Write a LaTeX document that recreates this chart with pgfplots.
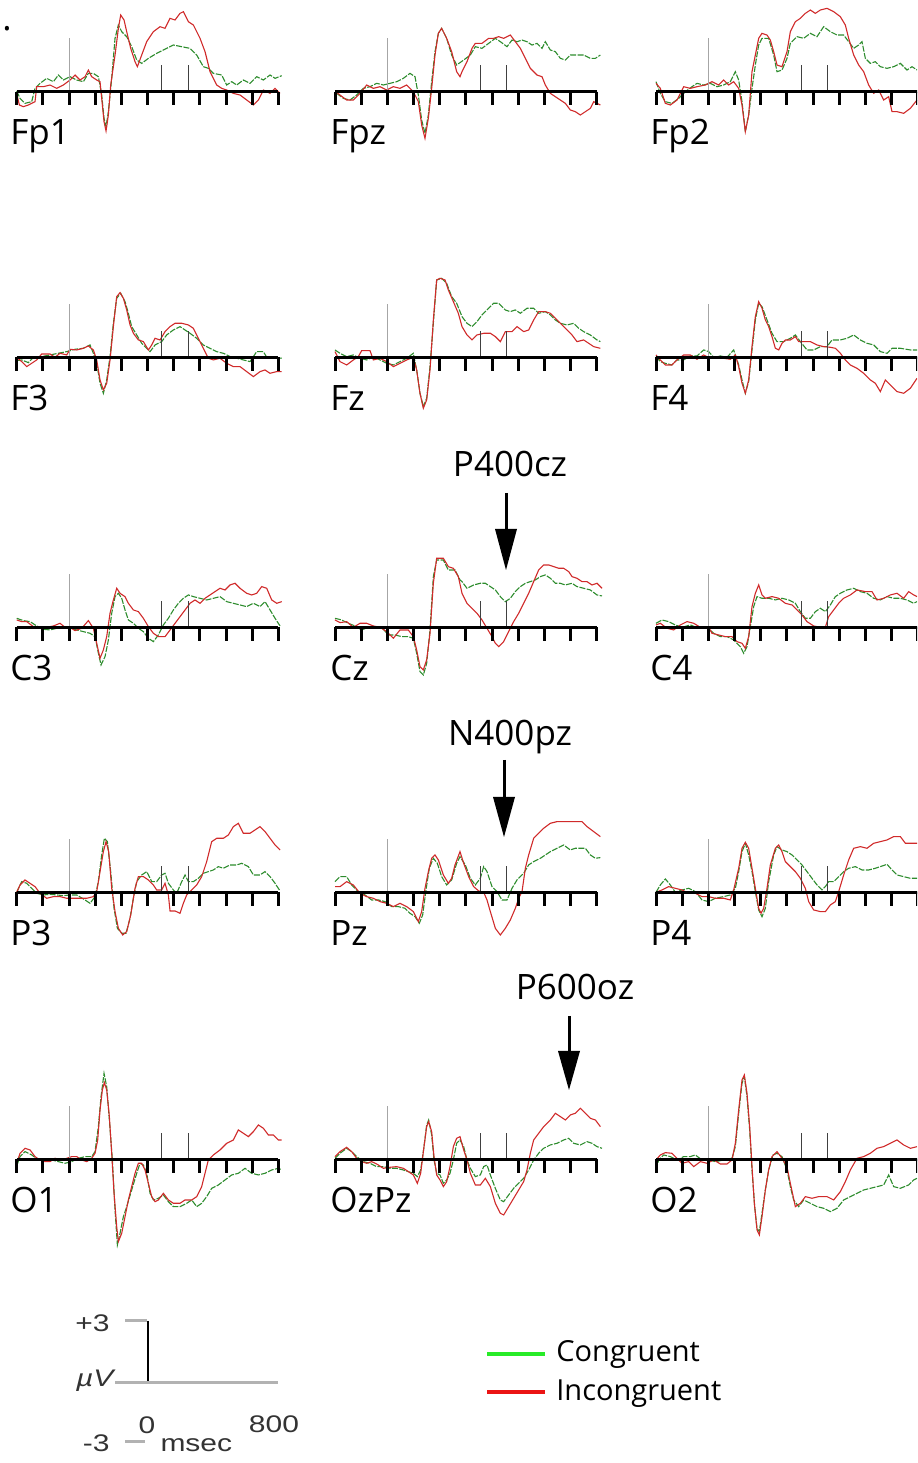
\documentclass[border=0pt]{standalone}
\usepackage{fontspec}
\setmainfont{Open Sans}
\newfontfamily\scalebarfont{Liberation Sans}
\usepackage{pgfplots}
\pgfplotsset{compat=1.18}
\definecolor{congcol}{RGB}{45,140,45}
\definecolor{incongcol}{RGB}{208,42,42}
\definecolor{legG}{RGB}{40,235,40}
\definecolor{legR}{RGB}{235,20,20}
\tikzset{
  cong/.style={draw=congcol, line width=0.55pt, dash pattern=on 3pt off 0.7pt},
  incong/.style={draw=incongcol, line width=0.55pt},
}
\pgfplotsset{
  erp/.style={x=0.1666667pt, y=0.1666667pt, xmin=-30, xmax=830, ymin=-300, ymax=300,
    hide axis, clip=false, anchor=south west, no markers},
}
\newcommand{\panelbase}{%
  \draw[gray!70, line width=0.5pt] (axis cs:157,0) -- (axis cs:157,160);
  \draw[black!75, line width=0.5pt] (axis cs:435,0) -- (axis cs:435,80) (axis cs:515,0) -- (axis cs:515,80);
  \draw[line width=1.5pt] (axis cs:0,0) -- (axis cs:785,0);
  \draw[line width=1.5pt] (axis cs:0,0) -- (axis cs:0,-40) (axis cs:78.5,0) -- (axis cs:78.5,-40)
    (axis cs:157,0) -- (axis cs:157,-40) (axis cs:235.5,0) -- (axis cs:235.5,-40)
    (axis cs:314,0) -- (axis cs:314,-40) (axis cs:392.5,0) -- (axis cs:392.5,-40)
    (axis cs:471,0) -- (axis cs:471,-40) (axis cs:549.5,0) -- (axis cs:549.5,-40)
    (axis cs:628,0) -- (axis cs:628,-40) (axis cs:706.5,0) -- (axis cs:706.5,-40)
    (axis cs:785,0) -- (axis cs:785,-40);
}
\newcommand{\erppanel}[4]{%
  \begin{axis}[erp, at={(#1,#2)}]
    \addplot[cong] coordinates {#3};
    \addplot[incong] coordinates {#4};
    \panelbase
  \end{axis}}
\newcommand{\lblfont}{\fontsize{17.5}{20}\selectfont}
\begin{document}
\begin{tikzpicture}[x=0.5pt,y=0.5pt]
\useasboundingbox (0,0) rectangle (917,1463);
\clip (0,0) rectangle (917,1463);
% ---------- Row 1 ----------
\erppanel{3.35pt}{635.65pt}{(0,2)(10,-20)(25,-35)(45,-30)(55,10)(70,25)(90,40)(110,30)(125,50)(140,35)(160,45)(180,35)(200,30)(215,55)(230,55)(245,45)(255,-10)(262,-80)(268,-105)(275,-60)(285,40)(295,160)(305,200)(315,180)(330,165)(345,135)(360,95)(375,85)(395,100)(420,115)(450,130)(470,140)(495,135)(520,130)(540,110)(560,75)(575,70)(590,55)(615,50)(630,20)(645,30)(660,20)(680,35)(700,25)(720,45)(740,35)(760,50)(775,40)(795,48)}
{(0,-5)(8,-40)(20,-45)(35,-40)(55,-30)(60,15)(80,15)(100,20)(120,10)(140,20)(160,35)(175,50)(190,35)(205,45)(215,65)(225,45)(240,35)(250,30)(255,-20)(262,-90)(268,-118)(275,-70)(282,20)(295,110)(305,190)(312,230)(322,215)(330,180)(342,130)(355,90)(362,75)(375,110)(390,150)(410,180)(430,195)(445,190)(460,220)(475,215)(490,235)(500,240)(515,210)(530,200)(550,160)(565,120)(580,60)(600,20)(615,10)(630,5)(650,-5)(670,-10)(690,-25)(710,-40)(725,-25)(740,5)(760,-5)(775,10)(790,-5)}
\erppanel{162.5pt}{635.65pt}{(5,-5)(25,-20)(45,-25)(65,-10)(85,10)(105,15)(125,25)(145,20)(165,25)(185,30)(205,40)(225,55)(240,45)(250,-10)(260,-85)(270,-125)(280,-70)(290,30)(300,120)(310,175)(320,190)(335,160)(350,110)(365,80)(386,95)(406,110)(421,135)(441,130)(461,145)(481,160)(496,150)(516,135)(531,155)(546,150)(561,155)(576,150)(591,140)(606,145)(621,130)(631,150)(646,125)(661,120)(676,100)(691,95)(706,110)(726,110)(746,110)(766,100)(781,100)(796,110)}
{(5,-2)(15,-10)(35,-25)(55,-25)(75,-5)(95,20)(115,10)(135,15)(155,5)(175,15)(195,10)(215,20)(235,0)(250,-30)(260,-100)(270,-140)(280,-80)(290,10)(300,110)(310,175)(320,190)(335,160)(350,120)(365,60)(375,45)(381,60)(396,90)(411,130)(421,145)(441,145)(461,160)(476,160)(491,165)(506,160)(526,170)(541,150)(556,130)(571,100)(586,70)(606,50)(621,45)(631,20)(646,-5)(661,-15)(676,-25)(691,-35)(706,-55)(721,-60)(736,-70)(751,-60)(766,-50)(776,-30)(786,-35)(796,-40)}
\erppanel{323pt}{635.65pt}{(0,30)(13,-5)(28,-30)(48,-35)(68,-20)(88,0)(108,15)(123,25)(143,20)(163,25)(183,15)(203,20)(223,30)(238,60)(248,35)(258,-30)(268,-120)(278,-70)(288,10)(298,80)(308,140)(318,160)(338,160)(353,110)(363,60)(378,65)(393,100)(403,145)(423,165)(443,160)(463,175)(483,165)(503,195)(523,180)(543,170)(563,170)(578,150)(593,130)(608,140)(618,150)(628,100)(643,85)(658,90)(673,75)(693,70)(713,75)(733,85)(753,65)(768,75)(783,65)}
{(0,25)(13,10)(28,-35)(43,-40)(63,-25)(83,15)(103,10)(123,15)(148,20)(168,30)(188,20)(203,35)(218,20)(233,30)(248,10)(258,-40)(268,-120)(278,-70)(288,60)(298,110)(308,160)(318,175)(333,170)(343,155)(353,120)(363,80)(378,75)(393,120)(403,180)(418,210)(433,220)(448,235)(463,245)(478,235)(493,245)(513,250)(533,240)(553,225)(568,200)(578,160)(593,110)(608,80)(623,60)(638,20)(653,-5)(668,5)(683,-25)(698,-15)(708,-60)(723,-60)(743,-65)(763,-50)(783,-25)}
% ---------- Row 2 ----------
\erppanel{3.35pt}{502.85pt}{(0,-10)(15,-8)(35,-16)(50,0)(75,2)(100,7)(125,12)(150,17)(175,24)(200,27)(220,37)(230,12)(240,-18)(250,-78)(260,-108)(270,-68)(280,2)(290,102)(300,177)(312,192)(325,167)(335,132)(345,92)(360,67)(375,42)(390,27)(400,17)(415,37)(435,47)(450,67)(470,82)(490,92)(505,82)(520,72)(540,57)(560,37)(580,27)(600,17)(620,12)(640,2)(660,-3)(680,-8)(700,-13)(720,17)(740,17)(750,0)(770,0)(795,-3)}
{(0,0)(15,-13)(30,-28)(45,-18)(60,-8)(75,10)(100,10)(115,0)(130,12)(150,7)(160,24)(180,22)(200,27)(215,34)(230,22)(240,-8)(250,-68)(260,-98)(270,-78)(280,-8)(290,92)(300,182)(310,194)(320,177)(330,142)(340,97)(350,72)(365,52)(380,47)(395,22)(405,37)(415,57)(430,52)(445,77)(460,92)(475,102)(495,102)(515,97)(530,87)(540,67)(550,47)(565,17)(575,-3)(590,-8)(610,-3)(630,-18)(650,-28)(670,-28)(690,-43)(710,-58)(730,-43)(745,-38)(760,-48)(780,-43)(795,-43)}
\erppanel{162.5pt}{502.85pt}{(0,22)(15,12)(35,2)(55,7)(75,-3)(95,-8)(115,2)(135,-8)(155,-18)(175,-23)(195,-13)(215,-3)(235,12)(245,-38)(255,-108)(265,-148)(275,-123)(285,-28)(295,102)(305,232)(320,237)(335,222)(350,182)(365,162)(381,122)(396,102)(411,92)(426,107)(441,127)(456,142)(476,162)(491,162)(511,142)(526,137)(541,142)(556,132)(576,147)(596,147)(611,132)(631,137)(646,127)(661,112)(676,102)(696,97)(716,102)(731,87)(746,77)(766,67)(786,52)(796,47)}
{(0,17)(15,-13)(35,-23)(55,-8)(70,2)(80,20)(105,20)(115,-8)(135,-3)(155,-13)(175,-28)(195,-18)(215,-8)(235,0)(245,-38)(255,-108)(265,-153)(275,-128)(285,-38)(295,112)(305,232)(315,237)(330,232)(340,202)(355,167)(370,132)(381,92)(396,67)(411,52)(426,67)(446,72)(466,72)(481,62)(496,47)(511,77)(531,77)(546,92)(566,77)(581,82)(596,112)(611,137)(631,137)(646,132)(661,117)(676,102)(696,82)(711,67)(726,47)(746,52)(761,42)(776,32)(796,27)}
\erppanel{323pt}{502.85pt}{(0,2)(13,-13)(28,-18)(48,-23)(63,-8)(83,-8)(103,4)(123,4)(143,22)(158,17)(173,0)(193,4)(213,0)(233,22)(248,-23)(258,-68)(268,-108)(278,-73)(288,22)(298,112)(308,162)(318,152)(333,112)(348,72)(363,47)(383,47)(403,57)(418,67)(433,47)(453,22)(473,22)(493,32)(513,32)(528,52)(553,52)(573,57)(593,67)(613,52)(633,42)(653,37)(673,17)(693,12)(708,27)(733,27)(763,22)(783,22)}
{(0,7)(13,-8)(28,-23)(48,-23)(63,-8)(83,7)(103,7)(123,-6)(143,7)(163,-3)(183,0)(203,-3)(223,-6)(238,7)(248,-28)(258,-78)(268,-108)(278,-68)(288,32)(298,122)(308,167)(318,147)(328,112)(338,92)(348,62)(358,27)(368,22)(378,42)(388,52)(403,52)(418,62)(428,47)(443,47)(463,47)(483,37)(503,32)(523,30)(538,27)(553,12)(568,-8)(583,-23)(603,-33)(623,-48)(643,-68)(658,-78)(673,-103)(688,-68)(703,-83)(723,-103)(743,-108)(763,-93)(783,-63)}
% ---------- Row 3 ----------
\erppanel{3.35pt}{367.85pt}{(0,27)(20,20)(40,17)(60,4)(80,-6)(100,-8)(120,-3)(140,0)(160,-3)(180,-8)(200,-13)(220,-18)(235,-28)(245,-78)(253,-113)(265,-88)(275,-38)(285,42)(295,92)(305,102)(315,87)(325,52)(335,22)(350,12)(365,-3)(380,-13)(395,-33)(410,-43)(425,-23)(440,7)(455,27)(470,52)(485,72)(500,87)(515,97)(530,92)(550,87)(570,82)(590,87)(610,92)(630,77)(650,72)(670,67)(690,62)(710,72)(730,62)(745,77)(760,52)(775,27)(790,4)}
{(0,22)(15,17)(30,17)(50,2)(70,0)(90,0)(110,4)(130,12)(145,0)(160,0)(175,-10)(195,-3)(215,20)(230,-3)(240,-48)(250,-93)(260,-68)(270,-28)(280,42)(290,82)(300,117)(310,102)(325,92)(335,72)(350,52)(365,47)(380,27)(395,2)(410,-18)(425,-28)(445,-28)(460,-8)(475,12)(490,32)(505,52)(520,72)(535,82)(550,72)(565,87)(580,97)(595,107)(610,117)(625,112)(640,127)(655,132)(670,117)(690,102)(705,97)(720,102)(735,122)(750,117)(765,82)(780,72)(795,77)}
\erppanel{162.5pt}{367.85pt}{(0,27)(20,22)(40,12)(60,4)(80,-8)(100,0)(120,-3)(140,0)(160,-23)(180,-23)(200,-28)(220,-28)(235,-33)(245,-78)(255,-133)(265,-143)(275,-108)(285,-8)(295,152)(305,202)(325,202)(340,172)(360,172)(375,142)(381,137)(396,117)(416,127)(436,132)(451,132)(466,122)(481,112)(496,92)(511,77)(526,87)(541,107)(556,122)(571,132)(586,137)(601,142)(616,152)(631,157)(646,147)(661,132)(676,132)(691,127)(711,132)(726,122)(746,117)(766,112)(786,97)(801,94)}
{(0,22)(15,14)(35,17)(55,0)(75,12)(95,12)(115,4)(135,0)(155,-13)(175,-33)(195,-8)(220,-8)(235,-28)(245,-68)(255,-118)(265,-128)(275,-98)(285,-18)(295,132)(305,207)(325,207)(340,182)(355,177)(370,152)(381,102)(396,72)(411,57)(426,42)(441,22)(456,-3)(471,-28)(481,-48)(491,-58)(506,-43)(521,-13)(536,17)(551,42)(566,72)(581,102)(596,137)(611,172)(626,187)(641,187)(656,182)(671,177)(686,177)(701,167)(711,152)(726,147)(741,137)(756,137)(771,127)(786,132)(801,117)}
\erppanel{323pt}{367.85pt}{(0,12)(18,22)(38,17)(58,7)(78,0)(103,7)(128,-3)(153,0)(173,-18)(193,-28)(213,-28)(233,-38)(253,-58)(263,-78)(273,-58)(283,2)(293,62)(303,92)(318,87)(338,87)(358,82)(378,87)(398,82)(418,72)(433,47)(448,27)(463,27)(478,47)(493,57)(508,47)(523,67)(538,92)(553,102)(573,112)(593,117)(613,107)(633,102)(653,87)(673,82)(693,92)(713,87)(733,87)(753,82)(773,72)(783,77)}
{(0,7)(13,12)(33,-3)(53,-8)(73,7)(93,17)(113,12)(133,0)(158,0)(168,-18)(188,-23)(208,-28)(228,-28)(243,-43)(258,-48)(268,-63)(278,-28)(288,62)(298,102)(308,127)(318,97)(328,87)(348,92)(368,87)(388,72)(408,67)(423,52)(438,37)(453,17)(473,4)(493,0)(508,0)(518,32)(533,52)(548,72)(563,87)(583,97)(603,112)(628,107)(648,107)(663,82)(683,87)(703,97)(723,102)(743,87)(758,107)(773,97)(783,92)}
% ---------- Row 4 ----------
\erppanel{3.35pt}{235.35pt}{(0,0)(15,32)(30,27)(45,12)(60,-3)(80,-8)(100,-6)(120,-8)(140,-10)(160,-8)(180,-8)(205,-23)(220,-33)(235,-13)(245,32)(255,112)(263,162)(272,152)(282,62)(292,-48)(302,-108)(315,-123)(328,-123)(340,-78)(350,-18)(360,32)(375,52)(390,62)(405,32)(420,32)(435,52)(445,57)(455,27)(470,7)(480,-3)(495,32)(505,52)(515,32)(530,32)(545,42)(560,57)(575,62)(590,67)(605,77)(620,72)(640,82)(660,82)(675,87)(695,77)(710,52)(730,52)(745,62)(760,47)(775,27)(790,4)}
{(0,0)(10,22)(25,37)(40,27)(55,17)(70,-3)(90,-18)(110,-13)(130,-13)(150,-18)(170,-18)(190,-18)(210,-18)(230,-13)(240,2)(250,62)(260,122)(268,152)(276,122)(285,12)(295,-58)(305,-108)(318,-128)(330,-118)(342,-68)(355,12)(365,47)(380,47)(395,37)(410,22)(420,7)(435,7)(445,27)(455,-8)(460,-56)(475,-56)(490,-63)(500,-33)(510,-8)(525,7)(540,22)(555,47)(570,92)(585,152)(600,162)(620,162)(635,172)(650,197)(665,207)(680,177)(700,177)(715,187)(730,197)(745,182)(760,162)(775,142)(790,127)}
\erppanel{162.5pt}{235.35pt}{(0,32)(15,47)(35,47)(50,22)(70,2)(90,-8)(110,-23)(130,-23)(150,-28)(170,-43)(190,-43)(210,-48)(225,-63)(240,-73)(253,-93)(263,-68)(273,7)(283,72)(295,102)(307,87)(320,47)(335,22)(350,37)(365,87)(375,107)(391,82)(406,42)(421,22)(436,42)(446,77)(456,62)(471,17)(486,2)(501,-23)(516,-23)(531,12)(546,37)(566,57)(581,82)(596,92)(616,102)(631,112)(646,122)(666,132)(686,142)(706,127)(721,132)(736,132)(751,132)(766,112)(781,102)(796,104)}
{(0,17)(15,17)(35,32)(55,22)(75,-3)(95,-13)(115,-18)(135,-28)(155,-33)(175,-43)(195,-33)(215,-43)(235,-58)(250,-88)(260,-58)(270,12)(280,62)(290,102)(300,112)(310,97)(325,52)(340,27)(350,42)(360,82)(375,122)(386,87)(401,47)(416,17)(431,4)(446,0)(456,-23)(466,-58)(481,-108)(496,-128)(511,-108)(526,-83)(541,-48)(551,-18)(561,2)(571,72)(581,112)(596,162)(611,177)(626,192)(646,207)(666,212)(686,212)(706,212)(726,212)(741,212)(756,197)(776,182)(796,167)}
\erppanel{323pt}{235.35pt}{(0,0)(13,22)(28,40)(43,22)(58,0)(78,7)(98,12)(118,2)(138,-23)(158,-28)(178,-18)(203,-13)(223,-8)(238,12)(248,62)(258,122)(268,147)(278,112)(288,62)(298,2)(308,-53)(318,-73)(328,-48)(338,32)(353,112)(363,137)(378,127)(393,122)(408,112)(423,97)(438,82)(453,62)(468,42)(483,22)(498,7)(508,17)(518,32)(533,32)(548,47)(563,62)(578,72)(598,77)(618,67)(638,67)(658,72)(673,77)(693,84)(708,67)(723,52)(743,47)(763,42)(783,42)}
{(0,0)(18,7)(38,17)(58,12)(78,7)(98,-3)(118,-3)(138,-13)(158,-13)(178,-18)(203,-18)(223,-23)(233,7)(248,72)(258,132)(268,150)(278,132)(288,72)(298,12)(308,-48)(315,-63)(323,-48)(333,12)(343,82)(358,132)(368,142)(378,122)(388,92)(403,77)(418,62)(433,42)(448,12)(458,-28)(473,-53)(493,-58)(508,-58)(523,-38)(538,-28)(548,2)(563,52)(578,97)(593,132)(613,137)(633,132)(653,147)(673,152)(693,157)(713,167)(733,167)(748,147)(768,147)(783,147)}
% ---------- Row 5 ----------
\erppanel{3.35pt}{101.85pt}{(0,-20)(10,8)(25,23)(45,13)(65,-2)(85,-2)(105,-2)(125,-7)(145,-12)(165,-7)(185,3)(205,8)(225,8)(235,23)(245,98)(253,188)(262,258)(270,218)(278,118)(287,-2)(295,-152)(302,-257)(310,-222)(320,-172)(330,-142)(345,-92)(360,-42)(370,-12)(380,-17)(390,-42)(400,-102)(410,-122)(425,-117)(440,-107)(455,-127)(470,-142)(490,-142)(510,-132)(525,-122)(540,-142)(555,-132)(570,-112)(585,-87)(605,-77)(625,-62)(645,-47)(665,-42)(685,-27)(705,-42)(725,-47)(745,-42)(765,-32)(785,-27)(795,-32)}
{(0,-12)(10,18)(25,33)(40,28)(55,8)(70,-2)(85,-7)(100,-7)(115,3)(135,-2)(150,3)(165,8)(180,8)(195,-2)(210,-7)(225,3)(235,18)(243,58)(250,148)(257,208)(263,230)(270,208)(278,128)(285,18)(292,-102)(300,-202)(305,-247)(315,-222)(325,-172)(335,-122)(345,-82)(355,-42)(365,-12)(375,-12)(385,-32)(395,-72)(405,-112)(415,-127)(425,-122)(440,-102)(455,-122)(470,-132)(490,-132)(505,-122)(525,-122)(540,-112)(555,-82)(565,-42)(575,-2)(590,13)(610,28)(630,48)(650,58)(665,88)(680,78)(695,68)(710,83)(725,103)(740,93)(755,73)(770,73)(785,58)(795,58)}
\erppanel{162.5pt}{101.85pt}{(0,3)(15,18)(35,33)(50,23)(65,8)(85,-7)(105,-12)(125,-22)(145,-22)(165,-27)(185,-27)(205,-32)(220,-37)(235,-42)(247,-52)(257,-32)(267,38)(275,103)(281,118)(290,73)(297,-2)(305,-42)(315,-47)(325,-72)(335,-62)(345,-42)(355,-2)(365,48)(375,58)(386,38)(396,-2)(406,-27)(421,-52)(436,-47)(446,-22)(456,-17)(466,-47)(481,-87)(496,-122)(506,-127)(521,-107)(536,-87)(551,-72)(566,-57)(581,-32)(596,-2)(611,18)(626,33)(646,43)(666,48)(686,58)(701,63)(716,48)(736,43)(756,53)(771,48)(786,38)(801,33)}
{(0,8)(15,23)(35,36)(50,23)(65,3)(80,-7)(95,-12)(110,-7)(125,-14)(145,-27)(165,-24)(185,-22)(205,-27)(220,-37)(235,-47)(247,-72)(257,-42)(267,38)(275,98)(281,113)(290,83)(297,8)(305,-47)(315,-62)(325,-82)(335,-67)(345,-22)(355,38)(365,63)(375,68)(386,28)(396,-2)(406,-42)(421,-77)(436,-77)(451,-57)(466,-82)(481,-132)(496,-162)(506,-167)(521,-142)(536,-117)(551,-92)(566,-67)(576,-32)(586,18)(596,58)(611,78)(626,98)(646,118)(661,138)(676,128)(691,118)(706,133)(721,138)(736,153)(751,138)(766,123)(781,118)(796,98)}
\erppanel{323pt}{101.85pt}{(0,-32)(8,-2)(23,13)(43,8)(63,-2)(83,8)(103,8)(118,13)(138,-2)(158,-2)(178,-7)(203,-2)(228,3)(238,38)(248,138)(258,228)(265,248)(273,188)(281,88)(288,-32)(296,-142)(303,-207)(310,-217)(318,-162)(328,-92)(338,-32)(351,13)(363,18)(378,8)(393,-32)(403,-82)(413,-122)(428,-142)(443,-122)(463,-132)(483,-142)(503,-147)(523,-157)(543,-147)(563,-122)(583,-112)(603,-102)(623,-92)(643,-87)(663,-82)(683,-77)(698,-47)(713,-82)(733,-87)(758,-77)(773,-62)(783,-57)}
{(0,-2)(13,13)(28,20)(48,18)(63,3)(78,-12)(98,-7)(113,-22)(133,-7)(153,-12)(173,-2)(193,-14)(213,-14)(228,-2)(238,48)(248,148)(258,238)(265,253)(273,198)(281,98)(288,-22)(295,-132)(303,-212)(310,-227)(318,-172)(328,-92)(338,-32)(348,8)(363,23)(378,3)(393,-22)(403,-72)(418,-142)(433,-132)(448,-112)(468,-117)(488,-112)(513,-112)(533,-122)(553,-97)(568,-67)(583,-32)(603,3)(623,8)(643,18)(663,33)(683,38)(703,48)(723,58)(743,43)(763,33)(783,38)}
% ---------- Panel labels ----------
\begin{scope}[every node/.style={anchor=base west, inner sep=0pt, font=\lblfont}]
\node at (10,1318.3) {Fp1}; \node at (330,1318.3) {Fpz}; \node at (650,1318.3) {Fp2};
\node at (10,1052.7) {F3};  \node at (330,1052.7) {Fz};  \node at (650,1052.7) {F4};
\node at (10,782.7) {C3};   \node at (330,782.7) {Cz};   \node at (650,782.7) {C4};
\node at (10,517.7) {P3};   \node at (330,517.7) {Pz};   \node at (650,517.7) {P4};
\node at (10,250.7) {O1};   \node at (330,250.7) {OzPz}; \node at (650,250.7) {O2};
\end{scope}
\node[anchor=base, inner sep=0pt, font=\lblfont] at (7,1432) {.};
% ---------- Annotations ----------
\node[anchor=base, inner sep=0pt, font=\lblfont] at (510,986) {P400cz};
\draw[line width=1.5pt] (506,970) -- (506,930);
\fill (495,934) -- (517,934) -- (506,893) -- cycle;
\node[anchor=base, inner sep=0pt, font=\lblfont] at (510,717) {N400pz};
\draw[line width=1.5pt] (504,703) -- (504,662);
\fill (493,666) -- (515,666) -- (504,626) -- cycle;
\node[anchor=base, inner sep=0pt, font=\lblfont] at (575,463) {P600oz};
\draw[line width=1.5pt] (569,447) -- (569,408);
\fill (558,412) -- (580,412) -- (569,373) -- cycle;
% ---------- Legend ----------
\draw[legG, line width=2pt] (487,109) -- (545,109);
\draw[legR, line width=2pt] (487,71) -- (545,71);
\node[anchor=base west, inner sep=0pt, font=\fontsize{14.5}{17}\selectfont] at (556,101) {Congruent};
\node[anchor=base west, inner sep=0pt, font=\fontsize{14.5}{17}\selectfont] at (556,62) {Incongruent};
% ---------- Scale bar ----------
\draw[gray!60, line width=1.5pt] (125,142) -- (147,142);
\draw[black, line width=1pt] (148,142) -- (148,80);
\draw[gray!60, line width=1.5pt] (115,80) -- (278,80);
\draw[gray!60, line width=1.5pt] (125,21) -- (145,21);
\begin{scope}[every node/.style={inner sep=0pt, text=black!80, font=\scalebarfont\fontsize{12}{14}\selectfont, xscale=1.25}]
\node[anchor=base east] at (110,131) {+3};
\node[anchor=base east] at (114,76) {\itshape µV};
\node[anchor=base] at (147,30) {0};
\node[anchor=base] at (274,31) {800};
\node[anchor=base east] at (110,11) {-3};
\node[anchor=base west] at (160,11) {msec};
\end{scope}
\end{tikzpicture}
\end{document}
